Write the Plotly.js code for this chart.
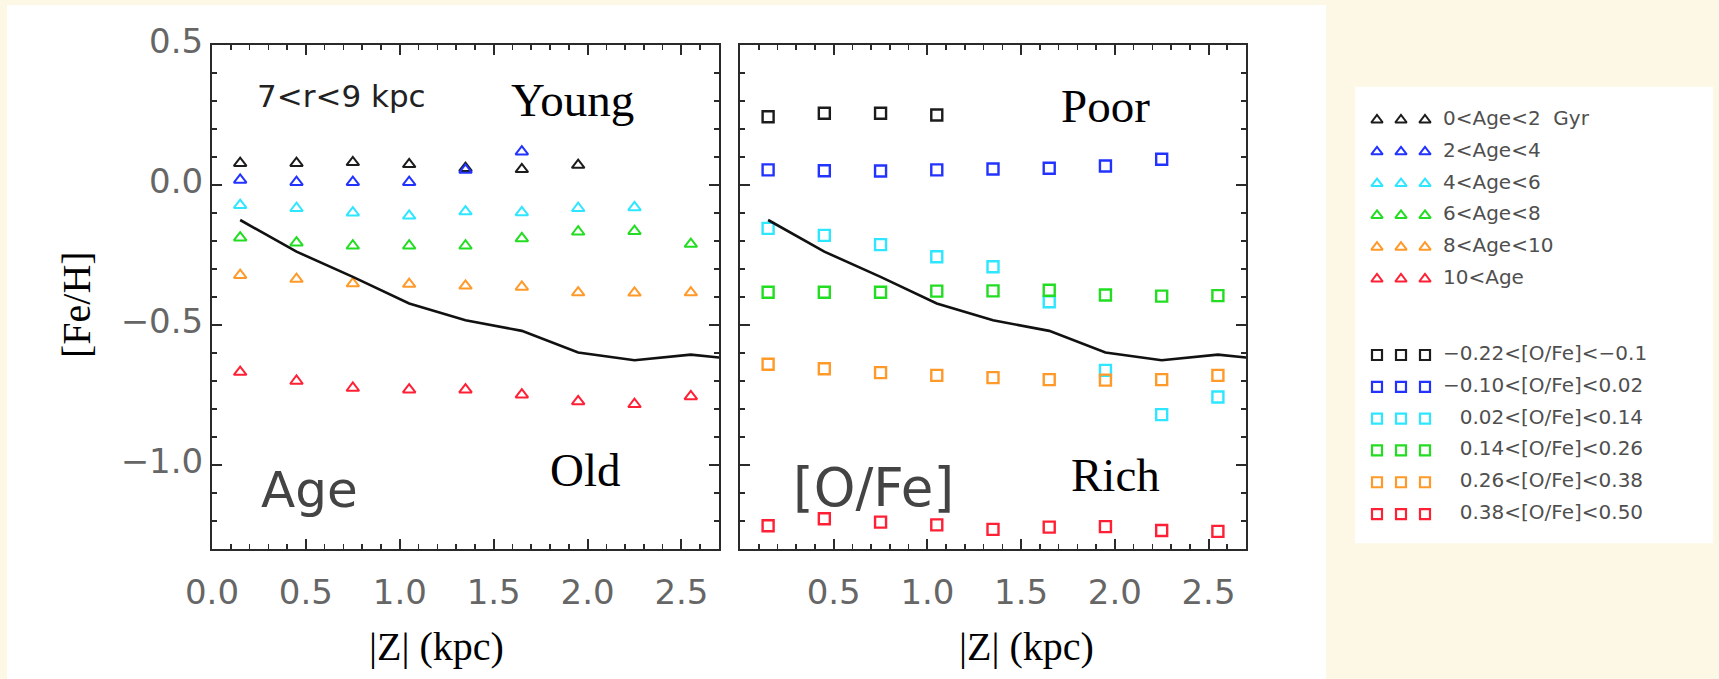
<!DOCTYPE html>
<html>
<head>
<meta charset="utf-8">
<script src="https://cdn.plot.ly/plotly-3.0.1.min.js"></script>
<style>html,body{margin:0;padding:0;background:#fdf7e6;}#chart{width:1719px;height:679px;}</style>
</head>
<body>
<div id="chart"></div>
<script>
// ---------------- DATA ----------------
const zKpc = [0.15, 0.45, 0.75, 1.05, 1.35, 1.65, 1.95, 2.25, 2.55];

// Mean [Fe/H] curve (same in both panels); last point lies beyond the axis and is clipped
const meanZ   = [0.15, 0.45, 0.75, 1.05, 1.35, 1.65, 1.95, 2.25, 2.55, 2.85];
const meanFeH = [-0.125, -0.238, -0.328, -0.423, -0.483, -0.521, -0.598, -0.626, -0.606, -0.626];

// Left panel: mono-age populations ([Fe/H] per |Z| bin, null = no point)
const age0to2   = [0.078, 0.078, 0.081, 0.074, 0.060, 0.056, 0.071, null, null];
const age2to4   = [0.018, 0.010, 0.010, 0.010, 0.054, 0.119, null, null, null];
const age4to6   = [-0.072, -0.083, -0.099, -0.110, -0.095, -0.098, -0.083, -0.080, null];
const age6to8   = [-0.188, -0.206, -0.217, -0.217, -0.217, -0.191, -0.167, -0.165, -0.211];
const age8to10  = [-0.322, -0.336, -0.352, -0.354, -0.360, -0.364, -0.384, -0.385, -0.384];
const age10plus = [-0.668, -0.700, -0.725, -0.731, -0.731, -0.749, -0.773, -0.783, -0.755];

// Right panel: mono-[O/Fe] populations
const ofeM022toM010 = [0.244, 0.256, 0.256, 0.250, null, null, null, null, null];
const ofeM010to002  = [0.054, 0.051, 0.050, 0.054, 0.057, 0.060, 0.068, 0.092, null];
const ofe002to014   = [-0.155, -0.180, -0.213, -0.256, -0.292, -0.417, -0.662, -0.820, -0.757];
const ofe014to026   = [-0.383, -0.383, -0.383, -0.379, -0.378, -0.376, -0.393, -0.397, -0.395];
const ofe026to038   = [-0.640, -0.656, -0.670, -0.680, -0.688, -0.695, -0.697, -0.695, -0.680];
const ofe038to050   = [-1.217, -1.192, -1.204, -1.214, -1.230, -1.222, -1.220, -1.234, -1.237];

const ageLabels = ['0<Age<2\u00a0 Gyr', '2<Age<4', '4<Age<6', '6<Age<8', '8<Age<10', '10<Age'];
const ofeLabels = ['\u22120.22<[O/Fe]<\u22120.1', '\u22120.10<[O/Fe]<0.02',
                   '\u2007\u20090.02<[O/Fe]<0.14', '\u2007\u20090.14<[O/Fe]<0.26',
                   '\u2007\u20090.26<[O/Fe]<0.38', '\u2007\u20090.38<[O/Fe]<0.50'];
const popColors = ['#1c1c1c', '#2233ff', '#2ee6ff', '#22dd22', '#ff9a2a', '#ff2035'];

const yTickVals = [0.5, 0.0, -0.5, -1.0];
const xTickValsLeft = [0.0, 0.5, 1.0, 1.5, 2.0, 2.5];
const xTickValsRight = [0.5, 1.0, 1.5, 2.0, 2.5];

// ---------------- LAYOUT HELPERS ----------------
const W = 1719, H = 679;
const fx = p => p / W;
const fy = p => 1 - p / H;

const ageSeries = [age0to2, age2to4, age4to6, age6to8, age8to10, age10plus];
const ofeSeries = [ofeM022toM010, ofeM010to002, ofe002to014, ofe014to026, ofe026to038, ofe038to050];

const traces = [];
ageSeries.forEach((s, i) => traces.push({
  type: 'scatter', mode: 'markers', x: zKpc, y: s, xaxis: 'x', yaxis: 'y',
  marker: {symbol: 'triangle-up-open', size: 11, color: popColors[i], line: {width: 2, color: popColors[i]}},
  showlegend: false, hoverinfo: 'skip', cliponaxis: false
}));
traces.push({type: 'scatter', mode: 'lines', x: meanZ, y: meanFeH, xaxis: 'x', yaxis: 'y',
  line: {color: '#111', width: 2.6}, showlegend: false, hoverinfo: 'skip'});

ofeSeries.forEach((s, i) => traces.push({
  type: 'scatter', mode: 'markers', x: zKpc, y: s, xaxis: 'x2', yaxis: 'y2',
  marker: {symbol: 'square-open', size: 11, color: popColors[i], line: {width: 2.4, color: popColors[i]}},
  showlegend: false, hoverinfo: 'skip', cliponaxis: false
}));
traces.push({type: 'scatter', mode: 'lines', x: meanZ, y: meanFeH, xaxis: 'x2', yaxis: 'y2',
  line: {color: '#111', width: 2.6}, showlegend: false, hoverinfo: 'skip'});

// Legend drawn in its own hidden subplot: three symbols + label per row
const ofeRowOffset = 7.39;
ageLabels.forEach((lab, i) => {
  traces.push({type: 'scatter', mode: 'markers', x: [0, 1, 2], y: [i, i, i], xaxis: 'x3', yaxis: 'y3',
    marker: {symbol: 'triangle-up-open', size: 10, color: popColors[i], line: {width: 2, color: popColors[i]}},
    showlegend: false, hoverinfo: 'skip'});
  traces.push({type: 'scatter', mode: 'text', x: [2.75], y: [i], text: [lab], textposition: 'middle right',
    xaxis: 'x3', yaxis: 'y3', textfont: {family: 'DejaVu Sans', size: 20, color: '#4f4f4f'},
    showlegend: false, hoverinfo: 'skip', cliponaxis: false});
});
ofeLabels.forEach((lab, i) => {
  const r = i + ofeRowOffset;
  traces.push({type: 'scatter', mode: 'markers', x: [0, 1, 2], y: [r, r, r], xaxis: 'x3', yaxis: 'y3',
    marker: {symbol: 'square-open', size: 10, color: popColors[i], line: {width: 2.2, color: popColors[i]}},
    showlegend: false, hoverinfo: 'skip'});
  traces.push({type: 'scatter', mode: 'text', x: [2.75], y: [r], text: [lab], textposition: 'middle right',
    xaxis: 'x3', yaxis: 'y3', textfont: {family: 'DejaVu Sans', size: 20, color: '#4f4f4f'},
    showlegend: false, hoverinfo: 'skip', cliponaxis: false});
});

const tickFont = {family: 'DejaVu Sans', size: 34, color: '#666'};
const minorTicks = {ticks: 'inside', ticklen: 5, tickwidth: 1.6, tickcolor: '#2a2a2a', dtick: 0.1, tick0: 0, showgrid: false};
const baseX = {
  range: [0, 2.7], showgrid: false, zeroline: false, showline: true, linewidth: 2, linecolor: '#2a2a2a',
  mirror: 'ticks', ticks: 'inside', ticklen: 10, tickwidth: 2, tickcolor: '#2a2a2a',
  tickmode: 'array', tickformat: '.1f', tickfont: tickFont, minor: minorTicks, ticklabelstandoff: 12
};
const baseY = {
  domain: [fy(549), fy(45)], range: [-1.3, 0.5], showgrid: false, zeroline: false,
  showline: true, linewidth: 2, linecolor: '#2a2a2a', mirror: 'ticks',
  ticks: 'inside', ticklen: 10, tickwidth: 2, tickcolor: '#2a2a2a',
  tickmode: 'array', tickvals: yTickVals, tickformat: '.1f', tickfont: tickFont, minor: minorTicks,
  ticklabelshift: -4
};

const serif = 'Liberation Serif, Times New Roman, serif';
const ann = (text, x, y, size, family, color, xanchor, angle) => ({
  text, x: fx(x), y: fy(y), xref: 'paper', yref: 'paper', showarrow: false,
  xanchor: xanchor || 'center', yanchor: 'middle', textangle: angle || 0,
  font: {family, size, color}
});

const layout = {
  width: W, height: H,
  margin: {l: 0, r: 0, t: 0, b: 0, pad: 0},
  paper_bgcolor: '#fdf7e6', plot_bgcolor: '#ffffff',
  showlegend: false,
  xaxis: Object.assign({}, baseX, {domain: [fx(212), fx(719)], anchor: 'y', tickvals: xTickValsLeft}),
  xaxis2: Object.assign({}, baseX, {domain: [fx(740), fx(1246)], anchor: 'y2', tickvals: xTickValsRight}),
  yaxis: Object.assign({}, baseY, {anchor: 'x'}),
  yaxis2: Object.assign({}, baseY, {anchor: 'x2', showticklabels: false}),
  xaxis3: {domain: [fx(1355), fx(1713)], range: [-0.9167, 14], visible: false, anchor: 'y3'},
  yaxis3: {domain: [fy(543.3), fy(86.7)], range: [13.31, -1.047], visible: false, anchor: 'x3'},
  shapes: [
    {type: 'rect', xref: 'paper', yref: 'paper', x0: fx(7), x1: fx(1326), y0: 0, y1: fy(5),
     fillcolor: '#ffffff', line: {width: 0}, layer: 'below'}
  ],
  annotations: [
    ann('7<r<9 kpc', 254.5, 95.6, 31, 'DejaVu Sans', '#222', 'left'),
    ann('Young', 572, 100, 47, serif, '#000'),
    ann('Old', 585, 470, 47, serif, '#000'),
    ann('Age', 259, 489.5, 50, 'DejaVu Sans', '#444', 'left'),
    ann('Poor', 1105, 105.7, 47, serif, '#000'),
    ann('Rich', 1115, 474.7, 47, serif, '#000'),
    ann('[O/Fe]', 791, 487, 53, 'DejaVu Sans', '#444', 'left'),
    ann('|Z| (kpc)', 436, 646, 40, serif, '#000'),
    ann('|Z| (kpc)', 1026, 646, 40, serif, '#000'),
    ann('[Fe/H]', 76, 305, 40, serif, '#000', 'center', -90)
  ]
};

Plotly.newPlot('chart', traces, layout, {staticPlot: true, displayModeBar: false});
</script>
</body>
</html>
